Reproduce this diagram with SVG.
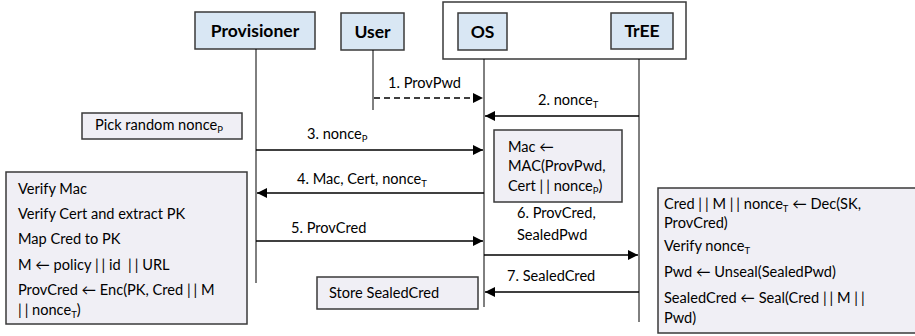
<svg xmlns="http://www.w3.org/2000/svg" width="915" height="336" viewBox="0 0 915 336">
<defs>
<marker id="ah" viewBox="0 0 10 10" refX="10" refY="5" markerWidth="10" markerHeight="10" markerUnits="userSpaceOnUse" orient="auto">
<path d="M0,0 L10,5 L0,10 z" fill="#000"/>
</marker>
<style>
.node{fill:#d9e7f4;stroke:#3a3a3a;stroke-width:1.5}
.hdr{font-family:Lato,"Liberation Sans",sans-serif;font-weight:bold;font-size:17.5px;fill:#000;text-anchor:middle}
.box{fill:#f0eff5;stroke:#3a3a3a;stroke-width:1.5}
.t{font-family:Lato,"Liberation Sans",sans-serif;font-size:14.6px;fill:#000}
.sub{font-size:9.5px}
.b{letter-spacing:3px;fill:#000}
.life{stroke:#000;stroke-width:1;fill:none}
.msg{stroke:#000;stroke-width:1.7;fill:none;marker-end:url(#ah)}
.dash{stroke-dasharray:6,4}
</style>
</defs>
<rect x="443" y="2" width="243" height="57" fill="#fff" stroke="#3a3a3a" stroke-width="1.5"/>
<g id="provisioner">
<rect class="node" x="195" y="12" width="120" height="37"/>
<text class="hdr" x="255" y="37">Provisioner</text>
</g>
<g id="user">
<rect class="node" x="341" y="13" width="63" height="37"/>
<text class="hdr" x="372.5" y="38">User</text>
</g>
<g id="os">
<rect class="node" x="458" y="13" width="49" height="37"/>
<text class="hdr" x="482.5" y="38">OS</text>
</g>
<g id="tree">
<rect class="node" x="611" y="13" width="62" height="36"/>
<text class="hdr" x="642" y="37">TrEE</text>
</g>
<g id="lifelines">
<line class="life" x1="256" y1="49" x2="256" y2="283"/>
<line class="life" x1="373" y1="50" x2="373" y2="110"/>
<line class="life" x1="484" y1="59" x2="484" y2="307"/>
<line class="life" x1="639" y1="59" x2="639" y2="322"/>
</g>
<g id="pick">
<rect class="box" x="82" y="113" width="160" height="26"/>
<text class="t" x="95" y="130">Pick random nonce<tspan class="sub" dy="3">P</tspan></text>
</g>
<g id="mac">
<rect class="box" x="494" y="130" width="128" height="72"/>
<text class="t" x="508" y="152">Mac ←</text>
<text class="t" x="508" y="171">MAC(ProvPwd,</text>
<text class="t" x="508" y="191">Cert <tspan class="b">|</tspan>| nonce<tspan class="sub" dy="3">P</tspan><tspan dy="-3">)</tspan></text>
</g>
<g id="provbox">
<rect class="box" x="6" y="172" width="241" height="152"/>
<text class="t" x="18" y="194">Verify Mac</text>
<text class="t" x="18" y="219">Verify Cert and extract PK</text>
<text class="t" x="18" y="244">Map Cred to PK</text>
<text class="t" x="18" y="270" xml:space="preserve">M ← policy <tspan class="b">|</tspan>| id  <tspan class="b">|</tspan>| URL</text>
<text class="t" x="18" y="295">ProvCred ← Enc(PK, Cred <tspan class="b">|</tspan>| M</text>
<text class="t" x="18" y="315"><tspan class="b">|</tspan>| nonce<tspan class="sub" dy="3">T</tspan><tspan dy="-3">)</tspan></text>
</g>
<g id="store">
<rect class="box" x="317" y="277" width="161" height="32"/>
<text class="t" x="329" y="298">Store SealedCred</text>
</g>
<g id="treebox">
<rect class="box" x="658" y="188" width="262" height="145"/>
<text class="t" x="664" y="209">Cred <tspan class="b">|</tspan>| M <tspan class="b">|</tspan>| nonce<tspan class="sub" dy="3">T</tspan><tspan dy="-3"> ← Dec(SK,</tspan></text>
<text class="t" x="664" y="228">ProvCred)</text>
<text class="t" x="664" y="251">Verify nonce<tspan class="sub" dy="3">T</tspan></text>
<text class="t" x="664" y="277">Pwd ← Unseal(SealedPwd)</text>
<text class="t" x="664" y="303">SealedCred ← Seal(Cred <tspan class="b">|</tspan>| M <tspan class="b">|</tspan>|</text>
<text class="t" x="664" y="323">Pwd)</text>
</g>
<g id="connectors">
<line class="msg dash" x1="374" y1="98" x2="483" y2="98"/>
<text class="t" x="388" y="88">1. ProvPwd</text>
<line class="msg" x1="639" y1="116" x2="485" y2="116"/>
<text class="t" x="538" y="105">2. nonce<tspan class="sub" dy="3">T</tspan></text>
<line class="msg" x1="256" y1="150" x2="483" y2="150"/>
<text class="t" x="307" y="139">3. nonce<tspan class="sub" dy="3">P</tspan></text>
<line class="msg" x1="484" y1="193" x2="257" y2="193"/>
<text class="t" x="297" y="184">4. Mac, Cert, nonce<tspan class="sub" dy="3">T</tspan></text>
<line class="msg" x1="256" y1="241" x2="483" y2="241"/>
<text class="t" x="291" y="233">5. ProvCred</text>
<line class="msg" x1="484" y1="255" x2="638" y2="255"/>
<text class="t" x="517" y="218">6. ProvCred,</text>
<text class="t" x="517" y="240">SealedPwd</text>
<line class="msg" x1="639" y1="292" x2="485" y2="292"/>
<text class="t" x="507" y="281">7. SealedCred</text>
</g>
</svg>
